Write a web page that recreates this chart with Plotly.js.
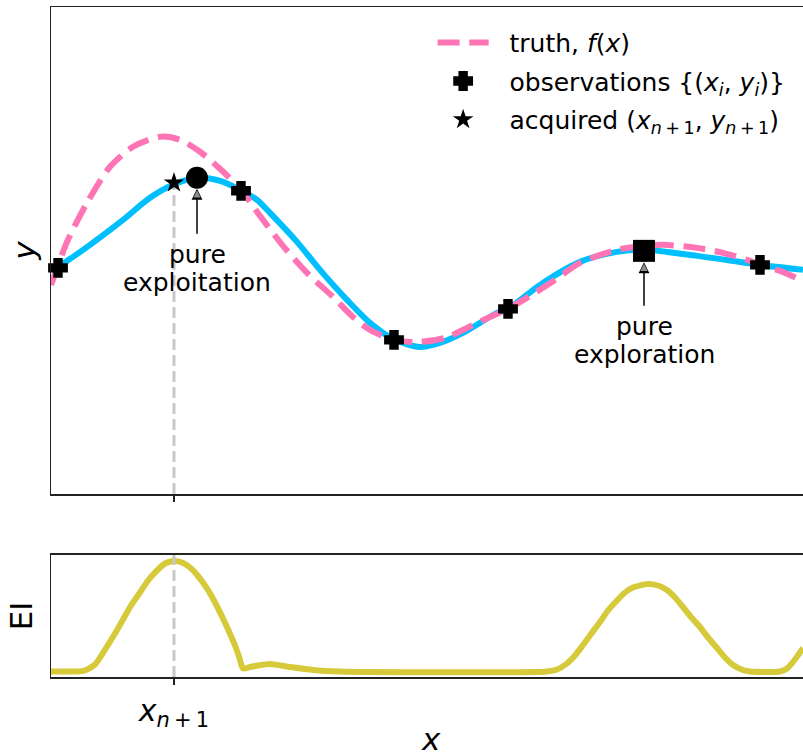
<!DOCTYPE html>
<html><head><meta charset="utf-8">
<script src="https://cdn.plot.ly/plotly-3.0.1.min.js"></script>
<style>html,body{margin:0;padding:0;overflow:hidden;background:#fff}</style>
</head><body><div id="chart" style="width:803px;height:753px"></div>
<script>
// GP posterior mean
const meanX = [0, 0.07, 0.22, 0.39, 0.72, 0.99, 1.22, 1.46, 1.69, 1.91, 2.06, 2.19, 2.46, 2.69, 2.96, 3.19, 3.42, 3.69, 3.89, 4.12, 4.46, 4.57, 4.89, 5.29, 5.66, 5.93, 6.46, 7.09, 7.52];
const meanY = [2.23, 2.26, 2.36, 2.48, 2.73, 2.95, 3.08, 3.15, 3.12, 3.02, 2.93, 2.80, 2.51, 2.23, 1.93, 1.70, 1.54, 1.46, 1.50, 1.60, 1.80, 1.84, 2.08, 2.31, 2.41, 2.43, 2.37, 2.28, 2.23];
// truth f(x)
const truthX = [0, 0.07, 0.16, 0.36, 0.59, 0.82, 1.09, 1.29, 1.49, 1.69, 1.90, 2.09, 2.32, 2.56, 2.82, 3.02, 3.19, 3.43, 3.69, 3.94, 4.16, 4.39, 4.57, 4.79, 5.04, 5.29, 5.66, 5.93, 6.12, 6.46, 6.72, 6.99, 7.09, 7.29, 7.52];
const truthY = [2.08, 2.27, 2.51, 2.90, 3.26, 3.46, 3.56, 3.53, 3.41, 3.24, 3.03, 2.77, 2.47, 2.20, 1.96, 1.76, 1.63, 1.53, 1.51, 1.55, 1.65, 1.76, 1.84, 1.97, 2.13, 2.30, 2.43, 2.47, 2.48, 2.45, 2.40, 2.32, 2.28, 2.22, 2.12];
// observations
const obsX = [0.07, 1.90, 3.43, 4.57, 7.09];
const obsY = [2.25, 3.02, 1.53, 1.84, 2.28];
// special points
const exploitX = [1.46], exploitY = [3.15];
const exploreX = [5.93], exploreY = [2.42];
const acqX = [1.23], acqY = [3.10];
// expected improvement
const eiX = [0, 0.26, 0.34, 0.44, 0.56, 0.64, 0.72, 0.80, 0.89, 0.97, 1.06, 1.14, 1.23, 1.31, 1.39, 1.47, 1.56, 1.64, 1.72, 1.78, 1.84, 1.88, 1.92, 1.99, 2.06, 2.19, 2.39, 2.62, 2.89,
             4.96, 5.06, 5.16, 5.24, 5.32, 5.40, 5.49, 5.57, 5.66, 5.74, 5.82, 5.97, 6.07, 6.16, 6.24, 6.32, 6.40, 6.49, 6.57, 6.66, 6.74, 6.82, 6.92, 6.99, 7.29, 7.36, 7.44, 7.52];
const eiY = [0, 0, 0.01, 0.07, 0.25, 0.38, 0.52, 0.66, 0.79, 0.91, 1.01, 1.08, 1.105, 1.09, 1.04, 0.955, 0.83, 0.69, 0.53, 0.40, 0.26, 0.15, 0.03, 0.045, 0.058, 0.075, 0.045, 0.015, 0,
             0, 0.02, 0.08, 0.16, 0.265, 0.375, 0.495, 0.61, 0.71, 0.79, 0.84, 0.875, 0.86, 0.815, 0.74, 0.645, 0.545, 0.445, 0.34, 0.235, 0.14, 0.065, 0.015, 0, 0, 0.03, 0.12, 0.235];
// labels
const legendTruth = '\u00a0\u00a0truth, <i>f</i>(<i>x</i>)';
const legendObs = '\u00a0\u00a0observations {(<i>x</i><sub><i>i</i></sub>, <i>y</i><sub><i>i</i></sub>)}';
const legendAcq = '\u00a0\u00a0acquired (<i>x</i><sub><i>n</i>\u2009+\u20091</sub>, <i>y</i><sub><i>n</i>\u2009+\u20091</sub>)';
const xNextLabel = '<i>x</i><sub><i>n</i>\u2009+\u20091</sub>';
const xTitle = '<i>x</i>';

const FONT = 'DejaVu Sans, sans-serif';
const BLUE = '#00bfff', PINK = '#ff74b4', OLIVE = '#d6ca3a', AX = '#222222';

const traces = [
  {x: meanX, y: meanY, xaxis: 'x', yaxis: 'y', mode: 'lines', line: {color: BLUE, width: 6, shape: 'spline', smoothing: 0.8}, showlegend: false, hoverinfo: 'skip'},
  {x: truthX, y: truthY, xaxis: 'x', yaxis: 'y', mode: 'lines', name: legendTruth, legendgroup: 'a', legendrank: 1,
   line: {color: PINK, width: 6, dash: '22px,9.6px', shape: 'spline', smoothing: 0.8}},
  {x: obsX, y: obsY, xaxis: 'x', yaxis: 'y', mode: 'markers', name: legendObs, legendgroup: 'b', legendrank: 2,
   marker: {symbol: 'cross', size: 13, color: '#000', line: {width: 4.2, color: '#000'}}, cliponaxis: false},
  {x: exploitX, y: exploitY, xaxis: 'x', yaxis: 'y', mode: 'markers', showlegend: false,
   marker: {symbol: 'circle', size: 22, color: '#000', line: {width: 0}}, cliponaxis: false},
  {x: exploreX, y: exploreY, xaxis: 'x', yaxis: 'y', mode: 'markers', showlegend: false,
   marker: {symbol: 'square', size: 22, color: '#000', line: {width: 0}}, cliponaxis: false},
  {x: acqX, y: acqY, xaxis: 'x', yaxis: 'y', mode: 'markers', name: legendAcq, legendgroup: 'c', legendrank: 3,
   marker: {symbol: 'star', size: 15.5, color: '#000', line: {width: 0}}, cliponaxis: false},
  {x: eiX, y: eiY, xaxis: 'x2', yaxis: 'y2', mode: 'lines', showlegend: false,
   line: {color: OLIVE, width: 6, shape: 'spline', smoothing: 0.6}}
];

function arrowPair(x, y, len, stand) {
  return [
    {x: x, y: y, xref: 'x', yref: 'y', ax: 0, ay: len, text: ' ', font: {size: 1}, borderpad: 0,
     showarrow: true, arrowhead: 2, arrowsize: 1.45, arrowwidth: 1.5, arrowcolor: '#000', standoff: stand},
    {x: x, y: y, xref: 'x', yref: 'y', ax: 0, ay: stand + 7, text: ' ', font: {size: 1}, borderpad: 0,
     showarrow: true, arrowhead: 2, arrowsize: 1.45, arrowwidth: 1, arrowcolor: '#8c8c8c', standoff: stand + 1.5}
  ];
}

const annotations = [].concat(
  arrowPair(exploitX[0], exploitY[0], 57, 11),
  arrowPair(exploreX[0], exploreY[0], 56, 11.5),
  [
    {x: exploitX[0], y: exploitY[0], xref: 'x', yref: 'y', text: 'pure', showarrow: false, yshift: -77, font: {size: 25, family: FONT, color: '#000'}},
    {x: exploitX[0], y: exploitY[0], xref: 'x', yref: 'y', text: 'exploitation', showarrow: false, yshift: -105, font: {size: 25, family: FONT, color: '#000'}},
    {x: exploreX[0], y: exploreY[0], xref: 'x', yref: 'y', text: 'pure', showarrow: false, yshift: -76, font: {size: 25, family: FONT, color: '#000'}},
    {x: exploreX[0], y: exploreY[0], xref: 'x', yref: 'y', text: 'exploration', showarrow: false, yshift: -104, font: {size: 25, family: FONT, color: '#000'}},
    {x: 0.5053, y: -0.093, xref: 'paper', yref: 'paper', xanchor: 'center', yanchor: 'middle', text: xTitle, showarrow: false,
     font: {size: 31, family: FONT, color: '#000'}}
  ]
);

const shapes = [
  {type: 'line', xref: 'x', yref: 'y', x0: acqX[0], x1: acqX[0], y0: -0.01, y1: acqY[0], layer: 'below',
   line: {color: '#c8c8c8', width: 3, dash: '11px,5px'}},
  {type: 'line', xref: 'x2', yref: 'y2 domain', x0: acqX[0], x1: acqX[0], y0: 0, y1: 1, layer: 'above',
   line: {color: '#c8c8c8', width: 3, dash: '11px,5px'}}
];

const axCommon = {showline: true, linecolor: AX, linewidth: 1.5, showgrid: false, zeroline: false, automargin: false};

const layout = {
  width: 803, height: 753,
  margin: {l: 51, r: 0, t: 7, b: 76, pad: 0},
  paper_bgcolor: '#fff', plot_bgcolor: '#fff',
  font: {family: FONT, color: '#000'},
  showlegend: true,
  legend: {x: 0.5075, y: 0.981, xanchor: 'left', yanchor: 'top', bgcolor: 'rgba(0,0,0,0)', borderwidth: 0,
           font: {size: 25, family: FONT, color: '#000'}, itemwidth: 51, tracegroupgap: 3, traceorder: 'grouped'},
  xaxis: Object.assign({}, axCommon, {domain: [0, 1], anchor: 'y', range: [0, 7.52], mirror: true,
          ticks: 'outside', ticklen: 6, tickwidth: 1.5, tickcolor: AX, tickvals: acqX, ticktext: [''], showticklabels: false}),
  yaxis: Object.assign({}, axCommon, {domain: [0.2731, 1], anchor: 'x', range: [-0.01, 4.857], mirror: false,
          ticks: '', showticklabels: false,
          title: {text: '<i>y</i>', font: {size: 31, family: FONT, color: '#000'}, standoff: 4}}),
  xaxis2: Object.assign({}, axCommon, {domain: [0, 1], anchor: 'y2', range: [0, 7.52], mirror: true,
          ticks: 'outside', ticklen: 6, tickwidth: 1.5, tickcolor: AX, tickvals: acqX, ticktext: [xNextLabel],
          tickfont: {size: 30, family: FONT, color: '#000'}}),
  yaxis2: Object.assign({}, axCommon, {domain: [0, 0.1821], anchor: 'x2', range: [-0.055, 1.165], mirror: false,
          ticks: '', showticklabels: false,
          title: {text: 'EI', font: {size: 31, family: FONT, color: '#000'}, standoff: 7}}),
  annotations: annotations,
  shapes: shapes
};

Plotly.newPlot('chart', traces, layout, {staticPlot: true, displayModeBar: false});
</script>
</body></html>
